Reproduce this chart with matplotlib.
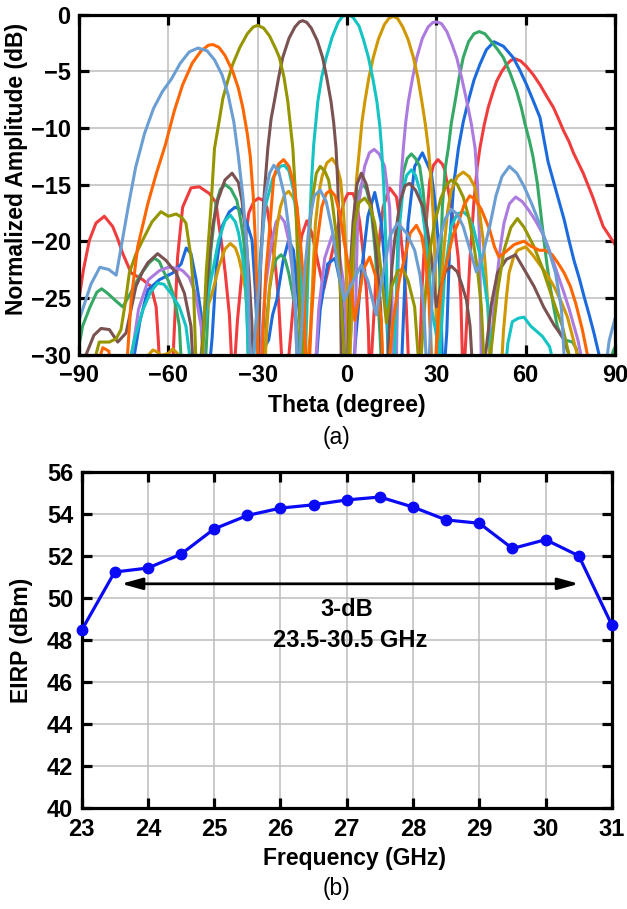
import matplotlib
matplotlib.use("Agg")
import matplotlib.pyplot as plt

plt.rcParams['font.family'] = ['Liberation Sans', 'DejaVu Sans']

# ---------------- (a) beam patterns: (theta in degrees, normalized amplitude in dB) ----------------
beam_red = [(-90.4, -25.8), (-88.5, -22.5), (-86.5, -19.9), (-84.3, -18.4), (-81.5, -17.8), (-78.7, -18.7),
            (-77, -19.8), (-75.3, -21.1), (-72.5, -22.8), (-68.6, -23.4), (-65.8, -24), (-64.1, -25.8),
            (-63.3, -29), (-62.5, -34), (-59, -34), (-58.2, -29), (-56.9, -21.4), (-55.2, -17), (-52.4, -15.3),
            (-49.6, -15.2), (-46.2, -15.8), (-44, -16.6), (-43.1, -18.4), (-41.8, -20.8), (-40.9, -22.8),
            (-39.5, -26.5), (-38.3, -33), (-36.8, -27), (-35.3, -22.8), (-34, -19.5), (-33, -17.5),
            (-31.3, -16.5), (-29.7, -16.2), (-28.2, -16.4), (-26.9, -17), (-25.2, -19.9), (-24, -22.3),
            (-23, -25.2), (-22, -30), (-21, -33), (-19.5, -30), (-18, -25.5), (-16.8, -22.3), (-15.2, -19.5),
            (-13.5, -18.2), (-11.8, -19.3), (-9.5, -22.2), (-7.8, -24.2), (-5.6, -21.7), (-2.8, -18.4),
            (-1, -16.5), (0.3, -15.8), (2, -15.8), (3.2, -16.7), (4.3, -18.4), (5.4, -21), (6.5, -24.3),
            (7.2, -28), (7.6, -33), (8.7, -28), (9.8, -22.8), (11, -19.5), (12.1, -17), (14.3, -15.3),
            (16.6, -16.1), (17.5, -17.8), (18.2, -19.9), (19.2, -22.5), (19.9, -25.8), (21, -33), (24, -33),
            (25.2, -24), (26.1, -19.9), (27.8, -14.6), (29, -13.3), (30.5, -12.8), (32, -13.2), (32.8, -13.7),
            (34, -15.5), (35, -17), (36.3, -19.2), (37.3, -21.4), (38.2, -25), (39, -33), (40.2, -27),
            (41.3, -21.5), (42.6, -16.5), (43.7, -13.5), (44.6, -11.8), (46, -9.8), (47.4, -8.2), (48.8, -7),
            (50.2, -5.9), (52, -5), (53.6, -4.4), (55, -4.05), (56.4, -3.9), (58.3, -4.1), (60.3, -4.6),
            (62.5, -5.3), (64.8, -6.2), (67, -7.2), (69.3, -8.2), (71, -9.2), (72.6, -10.2), (74.5, -11.2),
            (76, -12.2), (79.3, -14), (82.5, -16.1), (84.5, -17.6), (86, -18.7), (88, -19.5), (90, -20.3)]

beam_blue = [(-73, -34), (-71.4, -30), (-69.5, -27), (-66.9, -24.3), (-63, -23.4), (-58.5, -22.8),
             (-55.7, -22), (-54, -20.6), (-52.4, -21.1), (-50.7, -23.4), (-49, -26.4), (-47.9, -33),
             (-46.5, -32), (-45.3, -28.5), (-43.8, -22), (-42, -18.7), (-39.5, -17.4), (-37.6, -17),
             (-35.8, -17.2), (-33.8, -18.3), (-31.9, -19.9), (-30.8, -24.3), (-29.7, -31), (-28, -29.5),
             (-26.3, -28.7), (-25, -26.5), (-23.6, -25.2), (-21.5, -21.8), (-19.6, -19.9), (-18, -20.8),
             (-16.8, -24), (-15.5, -28), (-14.5, -33), (-11, -33), (-9, -26), (-6.5, -22), (-4, -21.5),
             (-2, -24), (0, -33), (1.5, -33), (3.1, -28), (4.8, -22.8), (7, -17.8), (9.3, -15.7), (11.5, -18.4),
             (12.5, -21.5), (13.2, -25.8), (14.3, -33), (18, -33), (19.5, -23), (20.5, -18.4), (22.7, -13.4),
             (25.3, -12.2), (28.3, -14), (29.5, -16.5), (30.6, -19.9), (31.4, -24), (32.2, -33), (33.5, -28),
             (34.5, -20), (35.8, -15), (37.4, -11.8), (39, -9.5), (40.7, -7.65), (42.6, -5.8), (44.6, -4.4),
             (46.8, -3.1), (49.35, -2.4), (52.5, -2.8), (55.8, -3.8), (58, -4.9), (60.3, -6.2), (62.5, -7.6),
             (64.8, -9.1), (66.1, -11), (67.5, -13), (69.5, -14.9), (71.2, -16.5), (72.9, -18.1), (74.5, -19.9),
             (76.2, -21.7), (78, -23.3), (79.6, -24.9), (81.3, -26.5), (82.9, -28.1), (84.6, -30), (86, -33)]

beam_green = [(-90.5, -30), (-88.8, -27.5), (-86.3, -25.8), (-84, -24.5), (-82.4, -24.2), (-80.4, -24.6),
              (-77.5, -25.3), (-75.3, -25.8), (-72.5, -24.5), (-69.5, -23), (-66.4, -21.9), (-64.7, -21.5),
              (-63, -21.8), (-61.9, -22.5), (-60, -23.5), (-58.5, -24.6), (-57.3, -26), (-56.3, -27.5),
              (-55.2, -33), (-48, -33), (-47, -28), (-45.8, -21), (-44, -16.7), (-42.5, -15.4), (-40.9, -15.0),
              (-39, -15.4), (-37, -16.4), (-35.8, -18), (-34.7, -19.9), (-33.8, -23), (-33, -33), (-28, -33),
              (-27, -27), (-26, -24.2), (-25.2, -22.8), (-23.8, -21.6), (-22.2, -21.2), (-20.8, -21.6),
              (-19.6, -22.8), (-18.5, -24.3), (-17.4, -25.8), (-16.5, -28.5), (-15.8, -33), (0, -33),
              (1.3, -28), (2.5, -20), (3.5, -16.2), (5, -14.9), (6.5, -15.4), (8, -17), (9.5, -21), (11, -28),
              (12, -33), (16, -33), (16.5, -27), (17.1, -19.9), (17.8, -16.5), (18.8, -14), (20.2, -12.7),
              (21.6, -12.3), (23, -12.7), (24.4, -13.4), (25.5, -15.5), (26.6, -18.4), (27.6, -22.5),
              (28.5, -33), (30, -33), (31, -25), (32, -17), (33, -13.5), (34, -11.8), (35, -9.6), (36.3, -7.65),
              (37.6, -5.6), (39, -3.8), (40.8, -2.4), (42.6, -1.7), (44.4, -1.5), (46.3, -1.7), (48.2, -2.3),
              (50.3, -3), (52.5, -3.8), (54.8, -5.2), (57, -6.8), (58.5, -8.2), (59.8, -9.7), (61.3, -11.2),
              (62.4, -12.5), (63.9, -14.9), (65, -17.4), (66.1, -19.9), (67.2, -22.2), (68.4, -24.3),
              (69.5, -26), (70.6, -27.5), (71.8, -28.3), (72.9, -28.7), (75.7, -28.9), (77, -29.5), (78, -31),
              (80, -34), (86, -34), (88.5, -30.5), (89.5, -29.6), (90, -29.4)]

beam_purple = [(-74, -34), (-72.5, -30.5), (-70, -26), (-66.7, -23.4), (-63, -22.6), (-60, -22.3),
               (-57, -22.4), (-55.2, -22.6), (-53, -23.2), (-51, -24.5), (-49, -27.5), (-47, -33), (-30, -33),
               (-28.5, -28), (-27.4, -24), (-25.2, -19.9), (-23.8, -18.3), (-22.4, -17.8), (-21, -18.3),
               (-19.6, -19.9), (-18.4, -22.5), (-17.4, -25.8), (-16.5, -33), (-11, -33), (-9.5, -26),
               (-7.5, -21.5), (-5, -19.5), (-3, -20.5), (-1, -24), (0.5, -33), (2.6, -30), (3.2, -22),
               (3.7, -17), (5.9, -13.4), (7.5, -12.2), (9.1, -11.9), (10.8, -12.3), (12.6, -13.4), (14.3, -17),
               (14.9, -22), (15.6, -33), (16.6, -30), (17.3, -20), (18, -15), (18.9, -11.8), (19.7, -9.5),
               (20.6, -7.65), (22, -5.6), (23.4, -3.8), (25.3, -2.1), (27.2, -1.1), (28.8, -0.7), (30.1, -0.65),
               (31.7, -0.8), (33.5, -1.5), (35.2, -2.6), (36.8, -3.8), (38.5, -5.6), (40.2, -7.65), (41.7, -9.6),
               (43, -11.8), (43.8, -15), (44.5, -20), (45.2, -33), (47, -33), (48.2, -30), (49.3, -26),
               (50.5, -22.8), (51.5, -20.5), (52.7, -18.4), (54.5, -16.7), (56.6, -16.1), (58.8, -16.5),
               (61.1, -17.3), (63.3, -18.2), (65.6, -19.3), (67.5, -20.5), (69.5, -22), (71.2, -23.3),
               (72.9, -24.6), (74.6, -26), (76.2, -27.5), (77.5, -28.7), (78.5, -30), (79.5, -34)]

beam_gold = [(-67.5, -32), (-66.5, -30), (-65.2, -29.6), (-63.5, -29.8), (-62.5, -30.1), (-60, -29.9),
             (-58.5, -29.5), (-57, -29.9), (-56, -31), (-54, -33), (-50, -33), (-48.5, -28.5), (-47, -26),
             (-45.3, -24.6), (-43.1, -22.3), (-41, -20.7), (-39.2, -20.2), (-37.5, -20.6), (-36.4, -21.4),
             (-35, -23), (-34.1, -24.3), (-33.3, -27), (-32.5, -33), (-28, -33), (-27, -28), (-26, -24),
             (-24.6, -21.4), (-23.5, -18.7), (-22.4, -17), (-21, -15.9), (-19.6, -15.6), (-18.2, -16.1),
             (-16.8, -17), (-15.7, -21.4), (-14.8, -25.5), (-14, -33), (-12.3, -28), (-11.3, -22),
             (-10.6, -18.4), (-9.5, -15.8), (-8.4, -14.3), (-6.8, -13.1), (-5, -12.7), (-3.5, -13.3),
             (-2.2, -14.6), (-1.3, -17), (-0.6, -19.9), (0, -25), (0.7, -33), (1.5, -26), (2.3, -19),
             (3.2, -14.5), (4.2, -11.8), (5, -9.5), (6, -7.65), (7.3, -5.6), (8.8, -3.8), (10.5, -2.2),
             (12.5, -0.9), (14, -0.35), (15.5, -0.15), (17, -0.35), (18.7, -1.1), (20.5, -2.2), (22.3, -3.8),
             (23.8, -5.6), (25.1, -7.65), (26.3, -9.7), (27.3, -11.8), (28.2, -14.5), (29, -18), (29.7, -23),
             (30.3, -33), (31.3, -27), (32, -22.5), (32.8, -19.9), (33.8, -17.3), (35, -15.5), (37, -14.3),
             (39, -13.9), (41, -14.3), (42.9, -15.2), (44.4, -17.3), (45.7, -19.9), (46.6, -22.8),
             (47.3, -25.8), (48.3, -33), (51.5, -33), (52.5, -28), (53.5, -25), (54.4, -22.8), (55.8, -21.5),
             (57.2, -20.8), (60, -20.5), (62.3, -21.2), (64.5, -22), (67, -22.9), (69.5, -24), (72, -25.4),
             (74, -26.7), (75.8, -28.5), (77.3, -30), (78.5, -33)]

beam_cyan = [(-74, -34), (-72.5, -30), (-71.4, -28.7), (-68.6, -26.1), (-66, -24.5), (-63.6, -23.7),
             (-61.5, -23.8), (-59.1, -24.6), (-56.3, -25.8), (-54.1, -27.5), (-52.4, -31), (-50.5, -34),
             (-48, -28), (-46.5, -24.5), (-45, -22.5), (-43.1, -19.9), (-41, -18.2), (-39.2, -17.7),
             (-37.5, -18.3), (-36.4, -19.3), (-35, -21.5), (-34.1, -23.4), (-33, -31), (-32, -33),
             (-30.5, -27), (-29, -21), (-27.5, -17), (-25, -14.5), (-22.5, -13.4), (-21, -13.3),
             (-19.5, -13.8), (-18, -15.5), (-16.5, -19), (-15.3, -24), (-14.3, -33), (-13, -22), (-12, -15),
             (-11.2, -11.5), (-9.8, -7.65), (-8.5, -5.5), (-7, -3.8), (-5, -2), (-3, -0.7), (-1.5, -0.15),
             (0.3, 0), (2, -0.25), (4, -1.0), (5.5, -2.2), (7.2, -3.8), (8.7, -5.7), (10, -7.65), (11, -9.8),
             (11.6, -11.8), (12.3, -15), (13, -20), (13.5, -25), (14, -33), (16, -30), (17.1, -19.9),
             (18.8, -15.5), (20, -14.2), (21.6, -13.7), (23, -14.2), (24.4, -15.5), (26.6, -19.9),
             (28.3, -25.8), (30.5, -29), (31.2, -30), (32.8, -22.8), (35, -18.7), (37, -17.6), (39, -17.4),
             (40.7, -17.8), (42.3, -18.7), (45.1, -21.7), (47.3, -25.8), (49, -33), (52.5, -33), (54, -29),
             (55.5, -27.1), (57.5, -26.8), (59.4, -26.7), (61.7, -27.5), (65.6, -28.4), (68, -29.3),
             (69.5, -31), (71, -34)]

beam_brown = [(-90, -34), (-87.6, -30), (-85, -28.3), (-82.6, -27.7), (-79.8, -27.8), (-77, -28.9),
              (-74.2, -28.1), (-72.5, -26), (-70.9, -24), (-68.5, -22.6), (-66.9, -21.9), (-63.6, -21.1),
              (-60.8, -21.7), (-57.4, -22.8), (-54.6, -24.6), (-52.4, -27.5), (-51.3, -33), (-49.5, -33),
              (-48, -27), (-46.5, -22), (-45, -18.5), (-43.4, -16.4), (-41, -14.6), (-38.6, -14.0),
              (-36.5, -14.8), (-35.3, -16.4), (-34, -19.5), (-33, -22.8), (-32, -27), (-31, -34),
              (-29.8, -30), (-29, -22), (-28, -16.5), (-26.6, -11.8), (-25.5, -9.2), (-24.4, -7.65),
              (-23, -5.6), (-21.6, -3.8), (-19.5, -2.1), (-17.5, -1.1), (-16, -0.65), (-14.9, -0.54),
              (-13.5, -0.7), (-12, -1.2), (-10, -2.3), (-8.2, -3.8), (-6.8, -5.6), (-5.4, -7.65), (-4.5, -9.5),
              (-3.7, -11.8), (-3.1, -15), (-2.6, -20), (-2.2, -25), (-1.8, -33), (0.3, -30), (1.2, -22),
              (2, -18.4), (3.3, -15), (4.8, -14), (6.5, -15), (8.2, -17), (9.3, -19.5), (10.4, -22.8),
              (11.3, -26), (12.1, -33), (13.8, -30), (15, -22.5), (16, -19.9), (17.8, -16.5), (19.5, -15.1),
              (21, -14.9), (23, -15.5), (25.5, -17), (27, -19), (28.3, -21.4), (30, -25.8), (31.5, -24),
              (33, -22.7), (35, -22.2), (37, -22.7), (38.5, -23.8), (40.1, -25.2), (41.3, -27.5), (42.3, -32),
              (45, -33), (46.5, -30), (48.5, -25.5), (50.5, -22.8), (53.5, -21.6), (56.6, -21.2),
              (59.5, -22.5), (62.8, -24), (66, -25.8), (69.5, -27.4), (72.5, -28.5), (74.5, -30), (76, -34)]

beam_olive = [(-90, -34), (-85.5, -33), (-84.3, -30), (-83.2, -28.9), (-79.8, -28.9), (-77.5, -28.6),
              (-75.9, -27.8), (-74.5, -25.5), (-73.1, -22.8), (-71, -21.2), (-68.6, -19.9), (-65.5, -18.3),
              (-62.5, -17.4), (-60, -17.8), (-57.4, -17.6), (-55.5, -17.9), (-54.1, -18.4), (-52.4, -21.4),
              (-51.5, -24.5), (-50.7, -31), (-49.5, -32), (-48.5, -30), (-47.3, -22.8), (-45.7, -17),
              (-44.5, -11.8), (-43, -9.5), (-41.7, -7.4), (-40, -5.8), (-38.4, -4.4), (-36, -2.9),
              (-33.5, -1.7), (-31.5, -1.1), (-30, -0.95), (-28, -1.2), (-26, -1.9), (-24, -3), (-22.7, -3.8),
              (-21.2, -5.5), (-19.9, -7.65), (-18.2, -11.8), (-17.4, -15.5), (-16.8, -19.9), (-16, -25),
              (-15.3, -32), (-14, -25), (-12.9, -19.9), (-11.5, -16), (-10.3, -14), (-9, -13.4), (-7.5, -13.8),
              (-6.2, -14.6), (-5, -16.5), (-3.4, -19.9), (-2.3, -24), (-1.1, -29.3), (-0.3, -33), (0.5, -30),
              (1.5, -22), (2.6, -18.4), (4, -16.6), (5.9, -16.2), (7.6, -16.8), (9.3, -18.4), (10.5, -20.5),
              (11.5, -22.8), (13.2, -27.2), (15, -24), (17.1, -22.6), (18.8, -22.5), (20.5, -23.5),
              (22.7, -25.8), (24.4, -32), (26.5, -24), (28, -20.5), (29.4, -18.4), (31.5, -16.2), (33.5, -15),
              (35, -14.6), (37, -15), (39, -16.1), (40.8, -17.8), (42.3, -19.9), (43.8, -22.5), (45.1, -25.8),
              (46.2, -32), (48.2, -30), (50.5, -24.5), (52.7, -20.8), (55, -18.8), (57.2, -18), (59.5, -18.8),
              (62.8, -20.5), (65.5, -22.3), (68.4, -24.6), (70.5, -26.2), (72.3, -27.5), (74.5, -30),
              (76, -33)]

beam_orange = [(-90, -34), (-84, -31), (-82, -29.4), (-80, -29.7), (-78, -33), (-74.5, -35), (-73.7, -30),
               (-72.5, -25.2), (-70.3, -20.5), (-66.9, -16.7), (-64, -14), (-61, -11.5), (-58, -8.5),
               (-55.2, -6.2), (-52, -4.3), (-49, -3.2), (-46.5, -2.7), (-45, -2.65), (-43, -2.9), (-41, -3.6),
               (-38.4, -5.0), (-36.5, -6.5), (-35, -8.2), (-33.5, -10.5), (-32.5, -12.5), (-31.5, -16),
               (-30.8, -19.9), (-30.2, -25), (-29.7, -35), (-28.5, -30), (-27.3, -23), (-26.3, -19.9),
               (-24.6, -14.3), (-23, -13.2), (-21.3, -12.8), (-19.5, -13.4), (-18, -14.9), (-16.8, -17),
               (-15.7, -19.9), (-14.5, -24), (-13.4, -35), (-12, -27), (-10.5, -21), (-8.5, -17), (-7, -15.8),
               (-5.6, -15.5), (-4, -16), (-2.5, -17.5), (-1, -20), (0.9, -22.8), (2.6, -27), (4, -25),
               (5.5, -22.5), (7.6, -21.4), (9.5, -23), (11.5, -27), (12.6, -35), (15.5, -27), (17.5, -23.5),
               (19.4, -21.4), (21.2, -19.3), (23.3, -18.6), (25, -19.5), (26.1, -21.1), (27.5, -25),
               (28.9, -35), (30.5, -27), (32, -23.5), (33.9, -21.4), (35.5, -19.5), (37.3, -18.4),
               (39.3, -16.8), (41.2, -16.0), (43, -16.3), (45.1, -17.2), (47.9, -19), (49.5, -20.5),
               (51, -21.4), (53, -21), (56.1, -20.3), (59.4, -20.0), (61.5, -20.4), (64.5, -20.8),
               (66.5, -20.8), (68.9, -21.2), (71, -22), (72.9, -22.8), (75, -24), (76.8, -25.5), (79, -27.8),
               (80.7, -30), (82, -33)]

beam_steel = [(-90, -27), (-86, -23.8), (-83, -22.3), (-80, -22.5), (-77.5, -23.0), (-75.5, -20),
              (-73.5, -17), (-71, -13.5), (-68, -10.5), (-65, -8.3), (-62, -6.8), (-59, -5.7), (-56, -4.3),
              (-53, -3.3), (-50, -2.95), (-47, -3.2), (-44.5, -4.0), (-42, -5.3), (-40, -7), (-38, -9.5),
              (-36.5, -12.5), (-35, -16), (-33.5, -21), (-32.3, -33), (-29, -22), (-27.5, -16), (-26, -14),
              (-24.6, -13.3), (-23, -13.8), (-21, -16), (-19, -20), (-17.5, -25), (-16.5, -33), (-14, -22),
              (-12.5, -18), (-11, -16), (-9, -15.5), (-7, -16.5), (-5, -19), (-3, -22.5), (-1, -25.2),
              (1.5, -23.8), (4.8, -22.1), (7, -23.5), (9.8, -26.5), (12, -23), (14.5, -19.5), (17, -18.4),
              (20, -19.3), (22.7, -20.8), (24.5, -23), (25.8, -26), (27, -33), (29, -23), (31, -19.9),
              (33, -18), (35, -17.2), (37, -17.6), (39, -18.7), (41, -20.5), (43.4, -22.7), (45, -21.8),
              (47.9, -18.7), (50, -16), (52, -14.3), (54.5, -13.4), (57, -14), (59.5, -15.2), (62, -16.7),
              (65, -18.7), (68, -21), (70, -22.8), (72, -26), (73.5, -33), (86, -33), (88, -28.8), (90, -26.8)]

beams = [
    (beam_red, '#F03C3C'),
    (beam_blue, '#1C6BDD'),
    (beam_green, '#35A866'),
    (beam_purple, '#AC7BE0'),
    (beam_gold, '#D09800'),
    (beam_cyan, '#14C4C4'),
    (beam_brown, '#7A5252'),
    (beam_olive, '#959500'),
    (beam_orange, '#FF6600'),
    (beam_steel, '#6B9ED2'),
]

theta_ticks = [-90, -60, -30, 0, 30, 60, 90]
amp_ticks = [0, -5, -10, -15, -20, -25, -30]

# ---------------- (b) EIRP versus frequency ----------------
freq_ghz = [23, 23.5, 24, 24.5, 25, 25.5, 26, 26.5, 27, 27.5, 28, 28.5, 29, 29.5, 30, 30.5, 31]
eirp_dbm = [48.45, 51.23, 51.42, 52.08, 53.28, 53.92, 54.27, 54.43, 54.66, 54.8, 54.32, 53.71, 53.55,
            52.35, 52.77, 52.0, 48.7]
band_start, band_stop, band_level = 23.6, 30.5, 50.67
freq_ticks = [23, 24, 25, 26, 27, 28, 29, 30, 31]
eirp_ticks = [40, 42, 44, 46, 48, 50, 52, 54, 56]

TICK_FS = 17
LABEL = dict(fontsize=16.5, fontweight='bold')


def style_axes(ax):
    for sp in ax.spines.values():
        sp.set_linewidth(2.3)
    ax.tick_params(direction='in', length=7, width=2.3, top=True, right=True,
                   labelsize=TICK_FS)
    ax.tick_params(axis='x', pad=7)
    ax.tick_params(axis='y', pad=6)
    for lab in ax.get_xticklabels() + ax.get_yticklabels():
        lab.set_fontweight('bold')
    ax.grid(True, color='#BDBDBD', linewidth=1.1)
    ax.set_axisbelow(True)


fig = plt.figure(figsize=(6.27, 9.09), dpi=100)

ax1 = fig.add_axes([0.126, 0.610, 0.855, 0.374])
for pts, col in beams:
    th = [p[0] for p in pts]
    db = [p[1] for p in pts]
    ax1.plot(th, db, color=col, linewidth=2.2, solid_joinstyle='round', solid_capstyle='round')
ax1.set_xlim(-90, 90)
ax1.set_ylim(-30, 0)
ax1.set_xticks(theta_ticks)
ax1.set_yticks(amp_ticks)
style_axes(ax1)
ax1.set_xlabel('Theta (degree)', **LABEL)
ax1.set_ylabel('Normalized Amplitude (dB)', **LABEL)
ax1.xaxis.set_label_coords(0.5, -0.116)
ax1.yaxis.set_label_coords(-0.095, 0.546)
fig.text(0.537, 0.519, '(a)', ha='center', va='center', fontsize=16.5)

ax2 = fig.add_axes([0.130, 0.111, 0.846, 0.370])
ax2.plot(freq_ghz, eirp_dbm, color='#0A0AF5', linewidth=2.3, marker='o', markersize=7.5,
         clip_on=False, zorder=3)
ax2.annotate('', xy=(band_start, band_level), xytext=(band_stop, band_level),
             arrowprops=dict(arrowstyle='<|-|>,head_length=0.9,head_width=0.25', color='black',
                             lw=2.0, mutation_scale=14, shrinkA=0, shrinkB=0))
ax2.text(27.0, 49.45, '3-dB', ha='center', va='center', fontsize=17, fontweight='bold')
ax2.text(27.05, 47.95, '23.5-30.5 GHz', ha='center', va='center', fontsize=17, fontweight='bold')
ax2.set_xlim(23, 31)
ax2.set_ylim(40, 56)
ax2.set_xticks(freq_ticks)
ax2.set_yticks(eirp_ticks)
style_axes(ax2)
ax2.set_xlabel('Frequency (GHz)', **LABEL)
ax2.set_ylabel('EIRP (dBm)', **LABEL)
ax2.xaxis.set_label_coords(0.514, -0.116)
ax2.yaxis.set_label_coords(-0.092, 0.5)
fig.text(0.537, 0.023, '(b)', ha='center', va='center', fontsize=16.5)

fig.savefig('out.png', dpi=100)
